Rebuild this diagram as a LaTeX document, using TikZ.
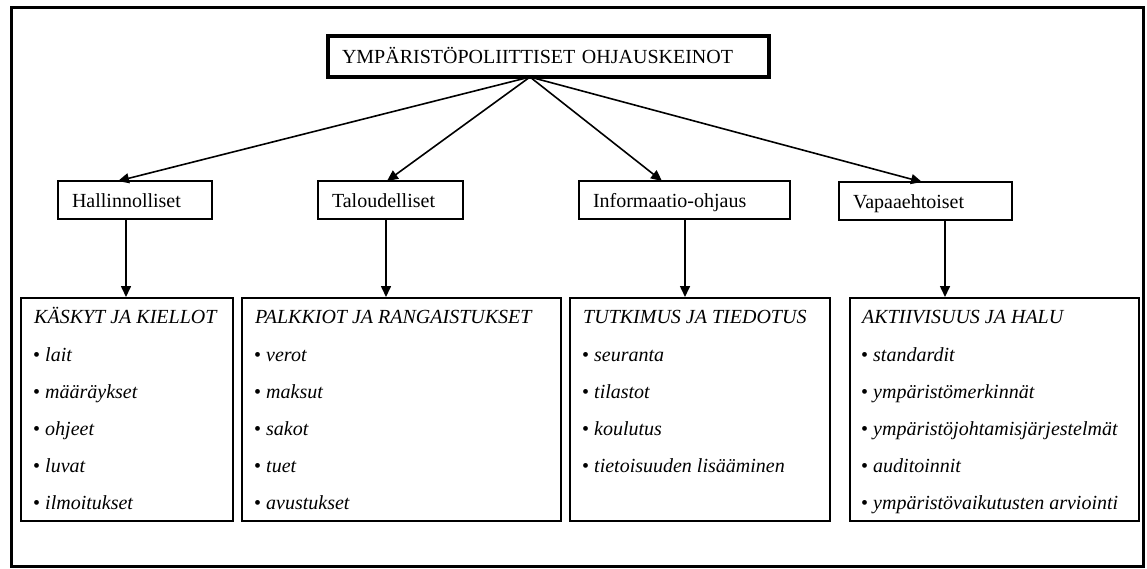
\documentclass[tikz,border=0pt]{standalone}
\usepackage{fontspec}
\setmainfont{Liberation Serif}
\usetikzlibrary{arrows.meta}
\begin{document}
\begin{tikzpicture}[x=1pt,y=-1pt,
  font=\fontsize{20}{24}\selectfont,
  titlebox/.style={draw, line width=4pt, minimum height=41pt, inner xsep=14pt, inner ysep=0pt,
    text width=413pt, align=left, text height=14pt, text depth=0pt},
  midbox/.style={draw, line width=1.3pt, minimum height=38pt, inner xsep=14pt, inner ysep=0pt,
    align=left, text height=14pt, text depth=0pt},
  bigbox/.style={draw, line width=1.7pt, minimum height=223pt, anchor=north west, inner sep=0pt},
  hdr/.style={anchor=base west, inner sep=0pt, font=\fontsize{20}{24}\selectfont\itshape},
  itm/.style={anchor=base west, inner sep=0pt},
  arr/.style={line width=1.6pt, -{Triangle[length=11pt,width=10pt]}}]
\useasboundingbox (0,0) rectangle (1147,568);
\draw[line width=3pt] (11,7) rectangle (1143,566);

\node[titlebox] (title) at (548.5,56.5) {YMPÄRISTÖPOLIITTISET OHJAUSKEINOT};

\node[midbox, text width=126pt] (h) at (135,200) {Hallinnolliset};
\node[midbox, text width=117pt] (t) at (390.5,200) {Taloudelliset};
\node[midbox, text width=183pt] (i) at (684.5,200) {Informaatio-ohjaus};
\node[midbox, text width=145pt] (v) at (925.5,201) {Vapaaehtoiset};

\node[bigbox, minimum width=212pt] (b1) at (20,297) {};
\node[bigbox, minimum width=319pt] (b2) at (241,297) {};
\node[bigbox, minimum width=260pt] (b3) at (569,297) {};
\node[bigbox, minimum width=289pt] (b4) at (849,297) {};

\node[hdr] (b1h) at (34,323) {KÄSKYT JA KIELLOT};
\node[hdr] (b2h) at (255,323) {PALKKIOT JA RANGAISTUKSET};
\node[hdr] (b3h) at (583,323) {TUTKIMUS JA TIEDOTUS};
\node[hdr] (b4h) at (862,323) {AKTIIVISUUS JA HALU};

\foreach \w [count=\k] in {lait, määräykset, ohjeet, luvat, ilmoitukset}
  \node[itm] (b1i\k) at (33,324+37*\k) {\textbullet\ \textit{\w}};
\foreach \w [count=\k] in {verot, maksut, sakot, tuet, avustukset}
  \node[itm] (b2i\k) at (254,324+37*\k) {\textbullet\ \textit{\w}};
\foreach \w [count=\k] in {seuranta, tilastot, koulutus, tietoisuuden lisääminen}
  \node[itm] (b3i\k) at (582,324+37*\k) {\textbullet\ \textit{\w}};
\foreach \w [count=\k] in {standardit, ympäristömerkinnät, ympäristöjohtamisjärjestelmät, auditoinnit, ympäristövaikutusten arviointi}
  \node[itm] (b4i\k) at (861,324+37*\k) {\textbullet\ \textit{\w}};

\coordinate (o) at (530,77);
\coordinate (ah) at (118,181);
\coordinate (at) at (387,181);
\coordinate (ai) at (662,181);
\coordinate (av) at (922,182);
\draw[arr] (o) -- (ah);
\draw[arr] (o) -- (at);
\draw[arr] (o) -- (ai);
\draw[arr] (o) -- (av);

\coordinate (hs) at (126,219);
\coordinate (ts) at (386,219);
\coordinate (is) at (685,219);
\coordinate (vs) at (945,220);
\draw[arr] (hs) -- (hs |- b1.north);
\draw[arr] (ts) -- (ts |- b2.north);
\draw[arr] (is) -- (is |- b3.north);
\draw[arr] (vs) -- (vs |- b4.north);
\end{tikzpicture}
\end{document}
